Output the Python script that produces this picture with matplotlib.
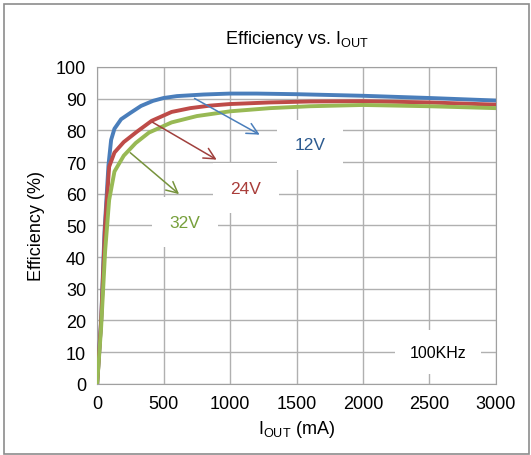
import numpy as np
import matplotlib.pyplot as plt
from matplotlib.patches import Rectangle

plt.rcParams['font.family'] = ['Liberation Sans Narrow', 'Liberation Sans', 'DejaVu Sans']
plt.rcParams['mathtext.fontset'] = 'custom'
plt.rcParams['mathtext.rm'] = 'Liberation Sans'

# curves (Iout in mA, efficiency in %)
x12 = [0, 30, 55, 85, 105, 130, 180, 250, 330, 420, 500, 600, 800, 1000, 1200, 1500, 2000, 2500, 3000]
y12 = [0, 20, 48, 69, 77, 80.5, 83.5, 85.5, 87.7, 89.3, 90.2, 90.8, 91.3, 91.6, 91.6, 91.4, 90.9, 90.2, 89.4]

x24 = [0, 30, 60, 90, 130, 200, 300, 410, 560, 700, 850, 1000, 1300, 1600, 2000, 2500, 3000]
y24 = [0, 20, 50, 68.5, 73, 76.3, 79.6, 83, 85.8, 87, 87.8, 88.3, 88.8, 89.1, 89.2, 88.8, 88.1]

x32 = [0, 30, 60, 90, 130, 200, 290, 390, 560, 750, 1000, 1300, 1600, 2000, 2500, 3000]
y32 = [0, 18, 42, 58, 67, 72, 76, 79.3, 82.5, 84.5, 86, 87, 87.6, 88, 87.6, 87]

labels = ['12V', '24V', '32V']
line_colors = ['#4a7ebb', '#be4b48', '#98b954']
arrow_colors = ['#4a7ebb', '#a0403d', '#77933c']
text_colors = ['#2c5a8f', '#a93d3a', '#77a03c']
arrow_from = [(714, 90.5), (398, 83.0), (233, 73.5)]
arrow_to = [(1241, 78.2), (917, 70.3), (632, 59.3)]
label_pos = [(1600, 75.4), (1120, 61.8), (662, 51)]

fig = plt.figure(figsize=(5.31, 4.56), dpi=100)
fig.patches.append(Rectangle((0.008, 0.002), 0.988, 0.988, transform=fig.transFigure,
                             fill=False, edgecolor='#8c8c8c', linewidth=1.2))
ax = fig.add_axes([0.183, 0.156, 0.751, 0.695])

for xs, ys, c in zip([x12, x24, x32], [y12, y24, y32], line_colors):
    ax.plot(xs, ys, color=c, linewidth=2.8, solid_capstyle='round', zorder=3)

for i in range(3):
    ax.annotate('', xy=arrow_to[i], xytext=arrow_from[i],
                arrowprops=dict(arrowstyle='->,head_length=0.8,head_width=0.4',
                                color=arrow_colors[i], lw=1.1), zorder=4)
    ax.text(label_pos[i][0], label_pos[i][1], labels[i], color=text_colors[i],
            fontsize=12.5, ha='center', va='center', zorder=5,
            bbox=dict(boxstyle='square,pad=1.0', facecolor='white', edgecolor='none'))

ax.text(2564, 10, '100KHz', fontsize=11.5, ha='center', va='center', zorder=5,
        bbox=dict(boxstyle='square,pad=0.9', facecolor='white', edgecolor='none'))

ax.set_xlim(0, 3000)
ax.set_ylim(0, 100)
ax.set_xticks(np.arange(0, 3001, 500))
ax.set_yticks(np.arange(0, 101, 10))
ax.grid(True, color='#b0b0b0', linewidth=1.0)
ax.set_axisbelow(True)
for s in ax.spines.values():
    s.set_color('#a0a0a0')
ax.tick_params(length=0, labelsize=13, pad=8)

ax.set_title(r'Efficiency vs. I$_{\mathregular{OUT}}$', fontsize=13, pad=17)
ax.set_xlabel(r'I$_{\mathregular{OUT}}$ (mA)', fontsize=13, labelpad=4)
ax.set_ylabel('Efficiency (%)', fontsize=13, labelpad=8)

fig.savefig('out.png', dpi=100)
